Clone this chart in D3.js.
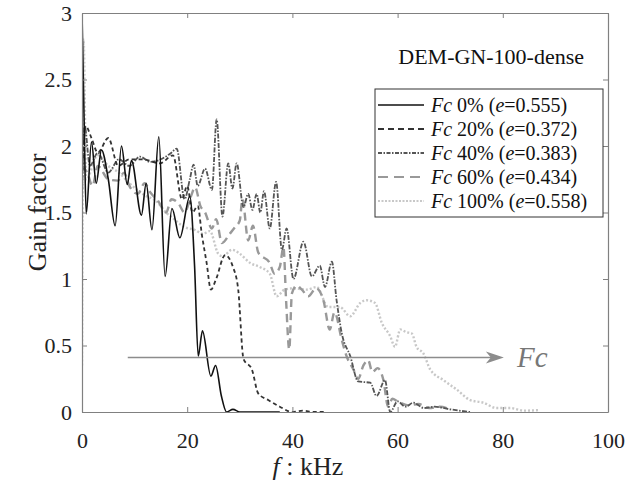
<!DOCTYPE html>
<html>
<head>
<meta charset="utf-8">
<script src="https://cdn.jsdelivr.net/npm/d3@7"></script>
<style>
  body { margin: 0; background: #fff; }
</style>
</head>
<body>
<svg id="chart" width="630" height="493"></svg>
<script>
// data (f in kHz, gain factor)
const fc0 = [[0,3.0],[0.4,2.2],[0.8,1.49],[1.8,2.03],[2.7,1.72],[3.7,1.97],[5,1.75],[6.3,1.40],[7.5,2.0],[8.6,1.71],[9.4,1.89],
  [11.3,1.48],[12.2,1.72],[13.3,1.37],[14.6,2.07],[15.8,1.02],[17.1,1.53],[18.6,1.31],[20.5,1.62],[21.4,1.1],[22.1,0.42],
  [22.9,0.61],[24.5,0.27],[25.4,0.35],[26.5,0.12],[27.5,0.0],[28.7,0.02],[30,0.0],[34,0.0],[37.6,0.0]];
const fc20 = [[0,1.75],[0.7,2.15],[1.8,2.06],[3,1.95],[5,2.06],[6.9,1.85],[9,1.9],[11.6,1.9],[14.8,1.87],[17.3,1.93],
  [19,1.6],[20,1.7],[21,1.5],[22,1.55],[22.8,1.33],[23.7,1.12],[24.5,0.92],[25.5,1.0],[27.2,1.18],[28.7,1.09],[29.7,0.92],
  [30.7,0.40],[32.3,0.32],[33.5,0.14],[35.4,0.09],[37.6,0.04],[39.9,0.0],[42,0.01],[44,0.0],[46,0.0]];
const fc40 = [[0,1.6],[0.5,2.15],[1.5,1.85],[3,1.95],[5,1.8],[7,1.9],[9,1.85],[11,1.92],[13,1.88],[15,1.9],[17,1.95],
  [18,1.98],[19.5,1.6],[20.5,1.75],[21.2,1.86],[22,1.7],[23.4,1.83],[24.7,1.67],[25.6,2.2],[26.7,1.47],[27.8,1.87],
  [28.6,1.68],[29.4,1.87],[30.7,1.54],[31.6,1.64],[32.4,1.52],[33.2,1.64],[33.9,1.5],[34.6,1.66],[35.7,1.38],[36.9,1.73],
  [38.0,1.22],[38.9,1.38],[40.2,1.0],[42.1,1.28],[43.7,1.02],[45.2,1.10],[46.2,0.94],[47.5,1.13],[48.4,0.84],[49.4,0.59],
  [51,0.42],[52.5,0.23],[54.8,0.22],[56,0.12],[57.6,0.24],[58.6,0.0],[60,0.08],[61.5,0.04],[63,0.07],[65,0.03],
  [67,0.04],[70,0.02],[73.8,0.0]];
const fc60 = [[0,1.85],[1,1.8],[2,1.7],[3,1.85],[5,1.75],[6.8,1.74],[8,1.8],[9,1.7],[10.6,1.64],[11.9,1.72],[13,1.65],
  [14.4,1.59],[16,1.5],[17,1.6],[18.3,1.57],[19.5,1.5],[20.7,1.62],[21.5,1.69],[22.5,1.55],[23.4,1.5],[24.7,1.38],
  [25.5,1.45],[26.6,1.27],[28.1,1.34],[29.1,1.39],[30,1.44],[30.5,1.6],[31.6,1.29],[32.5,1.4],[33.5,1.2],[35.7,1.12],
  [36.6,1.04],[37.6,1.09],[38.3,1.24],[38.8,0.84],[39.4,0.47],[39.9,0.89],[40.8,0.95],[41.8,0.92],[43,0.87],[44.5,0.93],
  [45.9,0.84],[47.1,0.62],[48,0.75],[49.4,0.54],[50.3,0.42],[51.6,0.32],[52.5,0.25],[53.5,0.35],[54.4,0.39],[55.2,0.3],
  [56.2,0.33],[57.3,0.24],[58.2,0.04],[59,0.1],[60,0.08],[62,0.05],[64,0.06],[66,0.03],[68,0.04],[70,0.02]];
const fc100 = [[0,0.35],[0.3,2.8],[0.8,1.75],[3,1.93],[5,1.85],[7,1.8],[9,1.72],[11.9,1.63],[14,1.59],[16,1.5],[17.5,1.45],
  [19.5,1.39],[21.4,1.37],[23,1.34],[24.3,1.36],[25.9,1.19],[26.8,1.17],[28.5,1.22],[30,1.19],[32,1.12],[33.8,1.09],
  [35.7,1.04],[37,0.87],[38.5,0.92],[40.2,0.93],[42.7,0.92],[44.6,0.94],[46.8,0.79],[49,0.79],[51,0.72],[52.9,0.82],
  [54.1,0.84],[55.7,0.82],[57,0.67],[58.6,0.57],[59.5,0.49],[60.5,0.62],[61.7,0.60],[62.7,0.59],[63.6,0.49],[64.9,0.44],
  [66.2,0.32],[68.7,0.24],[71.2,0.17],[73.8,0.09],[76.3,0.07],[78.8,0.03],[81.4,0.03],[84,0.01],[87,0.015]];

const pcts = ["0%", "20%", "40%", "60%", "100%"];
const eVals = ["0.555", "0.372", "0.383", "0.434", "0.558"];
const xTicks = [0, 20, 40, 60, 80, 100];
const yTicks = [0, 0.5, 1, 1.5, 2, 2.5, 3];

const styles = [
  {color: "#111", width: 1.6, dash: null},
  {color: "#333", width: 1.8, dash: "4,3"},
  {color: "#555", width: 1.8, dash: "5,1.5,1.5,1.5"},
  {color: "#999", width: 2.4, dash: "8,5"},
  {color: "#c8c8c8", width: 2.4, dash: "2,2"}
];
const allData = [fc0, fc20, fc40, fc60, fc100];
const serif = '"Liberation Serif"';

const svg = d3.select("#chart");
const mLeft = 82, mRight = 608, mTop = 13, mBottom = 412;

const x = d3.scaleLinear().domain([0, 100]).range([mLeft, mRight]);
const y = d3.scaleLinear().domain([0, 3]).range([mBottom, mTop]);

svg.append("clipPath").attr("id", "clip")
  .append("rect").attr("x", mLeft).attr("y", mTop).attr("width", mRight - mLeft).attr("height", mBottom - mTop);

const line = d3.line().x(d => x(d[0])).y(d => y(d[1])).curve(d3.curveMonotoneX);

const plot = svg.append("g").attr("clip-path", "url(#clip)");
// lightest first so the dark ones sit on top
[4, 3, 2, 1, 0].forEach(i => {
  plot.append("path")
    .datum(allData[i])
    .attr("d", line)
    .attr("fill", "none")
    .attr("stroke", styles[i].color)
    .attr("stroke-width", styles[i].width)
    .attr("stroke-dasharray", styles[i].dash);
});

// axes: bottom/left labelled, top/right ticks only, all inward
const axisColor = "#808080";
const gx = svg.append("g").attr("transform", `translate(0,${mBottom})`)
  .call(d3.axisBottom(x).tickValues(xTicks).tickSizeInner(-5).tickSizeOuter(0).tickPadding(20));
const gy = svg.append("g").attr("transform", `translate(${mLeft},0)`)
  .call(d3.axisLeft(y).tickValues(yTicks).tickFormat(d3.format("")).tickSizeInner(-5).tickSizeOuter(0).tickPadding(10));
const gxt = svg.append("g").attr("transform", `translate(0,${mTop})`)
  .call(d3.axisTop(x).tickValues(xTicks).tickSizeInner(-5).tickSizeOuter(0).tickFormat(""));
const gyr = svg.append("g").attr("transform", `translate(${mRight},0)`)
  .call(d3.axisRight(y).tickValues(yTicks).tickSizeInner(-5).tickSizeOuter(0).tickFormat(""));

[gx, gy, gxt, gyr].forEach(g => {
  g.attr("font-family", null);
  g.select(".domain").attr("stroke", axisColor).attr("stroke-width", 1.2);
  g.selectAll(".tick line").attr("stroke", axisColor);
  g.selectAll(".tick text").style("font-family", serif).style("font-size", "22px").attr("fill", "#222");
});

// axis titles
svg.append("text")
  .attr("transform", `translate(37,${(mTop + mBottom) / 2}) rotate(-90)`)
  .attr("text-anchor", "middle").attr("dy", "0.35em")
  .style("font-family", serif).style("font-size", "26px").attr("fill", "#222")
  .text("Gain factor");

const xl = svg.append("text")
  .attr("x", 308).attr("y", 475)
  .attr("text-anchor", "middle").style("font-family", serif).style("font-size", "26px").attr("fill", "#222");
xl.append("tspan").style("font-style", "italic").text("f");
xl.append("tspan").text(" : kHz");

// title
svg.append("text").attr("x", 584).attr("y", 64).attr("text-anchor", "end")
  .style("font-family", serif).style("font-size", "22px").attr("fill", "#111").text("DEM-GN-100-dense");

// Fc arrow
const ay = y(0.41);
svg.append("line")
  .attr("x1", x(8.7)).attr("x2", x(78)).attr("y1", ay).attr("y2", ay)
  .attr("stroke", "#8c8c8c").attr("stroke-width", 1.5);
const ax = x(80.2);
svg.append("path")
  .attr("d", `M${ax},${ay} L${ax - 18},${ay - 6} L${ax - 13},${ay} L${ax - 18},${ay + 6} Z`)
  .attr("fill", "#8c8c8c");
svg.append("text").attr("x", 517).attr("y", ay + 10)
  .style("font-family", serif).style("font-size", "29px").style("font-style", "italic")
  .attr("fill", "#777").text("Fc");

// legend
const lg = svg.append("g");
lg.append("rect").attr("x", 375).attr("y", 89).attr("width", 228).attr("height", 128)
  .attr("fill", "#fff").attr("stroke", "#333").attr("stroke-width", 1);
const legDash = [null, "6,4", "4,1.5,1.5,1.5", "10,6", "2,1.5"];
pcts.forEach((p, i) => {
  const ry = 105 + i * 24;
  lg.append("line").attr("x1", 378).attr("x2", 424).attr("y1", ry).attr("y2", ry)
    .attr("stroke", styles[i].color).attr("stroke-width", Math.min(styles[i].width, 2))
    .attr("stroke-dasharray", legDash[i]);
  const t = lg.append("text").attr("x", 431).attr("y", ry).attr("dy", "0.35em")
    .style("font-family", serif).style("font-size", "20px").attr("fill", "#111");
  t.append("tspan").style("font-style", "italic").text("Fc");
  t.append("tspan").text(` ${p} (`);
  t.append("tspan").style("font-style", "italic").text("e");
  t.append("tspan").text(`=${eVals[i]})`);
});
</script>
</body>
</html>
